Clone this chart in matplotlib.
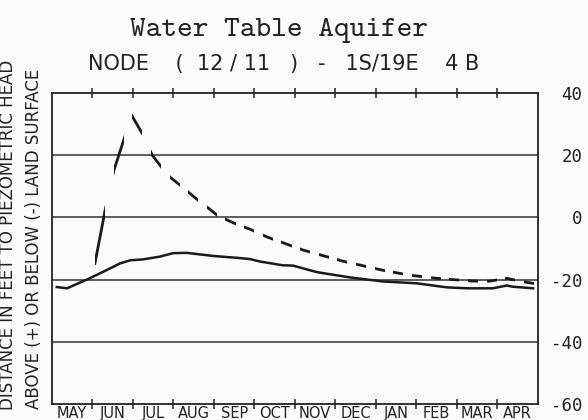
import matplotlib.pyplot as plt
import numpy as np
from matplotlib.path import Path
from matplotlib.patches import PathPatch

# months from 1 May (x axis runs May..Apr)
months = ['MAY', 'JUN', 'JUL', 'AUG', 'SEP', 'OCT', 'NOV', 'DEC', 'JAN', 'FEB', 'MAR', 'APR']
yticks = [40, 20, 0, -20, -40, -60]

# observed head (solid)
obs_t = [0.12, 0.37, 0.86, 1.31, 1.68, 1.93, 2.25, 2.67, 2.99, 3.33, 3.98, 4.57,
         4.89, 5.14, 5.70, 5.95, 6.54, 7.36, 8.17, 9.01, 9.75, 10.25, 10.89,
         11.23, 11.38, 11.88]
obs_v = [-22.4, -22.8, -20.0, -17.2, -14.8, -13.8, -13.5, -12.6, -11.5, -11.4,
         -12.4, -13.0, -13.4, -14.2, -15.4, -15.5, -17.6, -19.3, -20.6, -21.2,
         -22.5, -22.8, -22.8, -21.9, -22.3, -22.8]

# simulated head (dashed)
sim_t = [1.06, 1.31, 1.53, 1.78, 1.96, 2.25, 2.47, 2.72, 2.91, 3.16, 3.36, 3.60,
         3.83, 4.07, 4.32, 4.57, 4.89, 5.31, 6.20, 7.19, 8.17, 8.84, 9.51, 10.40,
         10.81, 11.23, 11.73, 11.88]
sim_v = [-14.8, 2.1, 15.2, 25.2, 33.0, 26.5, 20.1, 15.9, 13.0, 10.4, 8.2, 5.6,
         3.3, 0.8, -0.8, -2.3, -3.8, -6.3, -10.5, -14.1, -17.0, -18.6, -19.6,
         -20.5, -20.5, -19.6, -20.9, -21.2]

ink = '#222222'
fig = plt.figure(figsize=(5.88, 4.2), dpi=100, facecolor='#fafafa')
ax = fig.add_axes([0.0884, 0.0381, 0.8265, 0.7405])
ax.set_facecolor('#fafafa')
ax.set_xlim(0, 12)
ax.set_ylim(-60, 40)

for s in ax.spines.values():
    s.set_linewidth(1.3)
    s.set_color(ink)

# horizontal reference lines
for v in yticks[1:-1]:
    ax.axhline(v, color='#333333', lw=1.1, zorder=1)

ax.plot(obs_t, obs_v, color='#1a1a1a', lw=1.8, zorder=3)

# plotter style dashes: dash pattern follows the x axis (14 day cycle)
dash_start, dash_period, dash_len = 1.06, 0.4605, 0.25
verts, codes = [], []
for x0 in np.arange(dash_start, 12, dash_period):
    x1 = x0 + dash_len
    verts += [(x0, -100), (x1, -100), (x1, 100), (x0, 100), (x0, -100)]
    codes += [Path.MOVETO, Path.LINETO, Path.LINETO, Path.LINETO, Path.CLOSEPOLY]
clip = PathPatch(Path(verts, codes), transform=ax.transData)
line, = ax.plot(sim_t, sim_v, color='#1a1a1a', lw=2.0, zorder=3)
line.set_clip_path(clip)

# month ticks on top and bottom
ax.set_xticks(np.arange(1, 12))
ax.set_xticklabels([])
ax.set_xticks(np.arange(0.5, 12), minor=True)
ax.set_xticklabels(months, minor=True, fontsize=10.5, color=ink)
ax.tick_params(axis='x', which='major', direction='inout', length=7, width=1.1,
               top=True, bottom=True, color=ink)
ax.tick_params(axis='x', which='minor', length=0, pad=1.5)

ax.yaxis.tick_right()
ax.set_yticks(yticks)
ax.set_yticklabels([str(v) for v in yticks], fontsize=12.5, family='DejaVu Sans Mono',
                   color=ink)
ax.tick_params(axis='y', length=0, pad=32)
for lab in ax.get_yticklabels():
    lab.set_horizontalalignment('right')

fig.text(0.474, 0.914, 'Water Table Aquifer', ha='center', va='baseline',
         fontsize=21.5, family='cmtt10', color=ink)
fig.text(0.482, 0.848, 'NODE    (  12 / 11   )   -   1S/19E    4 B', ha='center',
         va='center', fontsize=15, color=ink)
fig.text(0.014, 0.440, 'DISTANCE IN FEET TO PIEZOMETRIC HEAD', rotation=90,
         ha='center', va='center', fontsize=12, color=ink)
fig.text(0.058, 0.431, 'ABOVE (+) OR BELOW (-) LAND SURFACE', rotation=90,
         ha='center', va='center', fontsize=12, color=ink)

fig.savefig('out.png', dpi=100, facecolor=fig.get_facecolor())
